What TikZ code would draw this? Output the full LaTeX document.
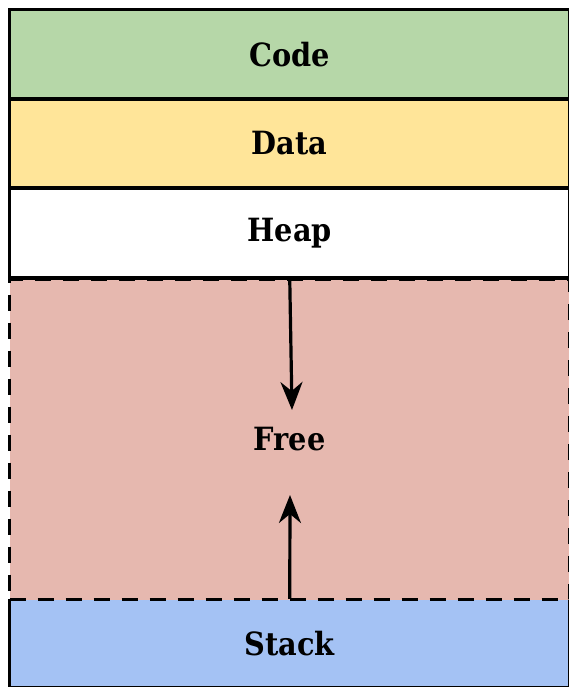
\documentclass[tikz,border=0pt]{standalone}
\usepackage{fontspec}
\setmainfont{DejaVu Serif Condensed}
\usetikzlibrary{arrows.meta}
\definecolor{codegreen}{HTML}{B6D7A8}
\definecolor{datayellow}{HTML}{FFE599}
\definecolor{freepink}{HTML}{E6B8AF}
\definecolor{stackblue}{HTML}{A4C2F4}
\begin{document}
\begin{tikzpicture}[x=1pt,y=-1pt,
  region/.style={rectangle, inner sep=0pt, minimum width=560.5pt,
    font=\fontsize{32}{36}\selectfont\bfseries, text=black},
  solidregion/.style={region, draw=black, line width=3.5pt},
  border/.style={draw=black, line width=3.5pt},
  growth/.style={draw=black, line width=3.2pt,
    -{Stealth[length=28pt, width=22pt, inset=9pt]}}]
\clip (0,0) rectangle (569,687);
% stack: filled, solid on three sides
\node[region, fill=stackblue, minimum height=89pt] (stack) at (289.75,643.5) {Stack};
\draw[border] (stack.north west) -- (stack.south west) -- (stack.south east) -- (stack.north east);
% free space between heap and stack, dashed outline
\node[region, fill=freepink, draw=black, line width=3.5pt, dash pattern=on 16pt off 12pt,
  minimum height=320pt] (free) at (289.75,439.5) {};
\node[region] (freelabel) at (free.center) {Free};
% fixed segments
\node[solidregion, fill=white, minimum height=89.5pt] (heap) at (289.75,233) {Heap};
\node[solidregion, fill=datayellow, minimum height=89pt] (data) at (289.75,143.5) {Data};
\node[solidregion, fill=codegreen, minimum height=89.5pt] (code) at (289.75,54.25) {Code};
% growth directions
\coordinate (heaptip) at (292,410);
\coordinate (stacktip) at (290,495);
\draw[growth] (heap.south) -- (heaptip);
\draw[growth] (stack.north) -- (stacktip);
\end{tikzpicture}
\end{document}
